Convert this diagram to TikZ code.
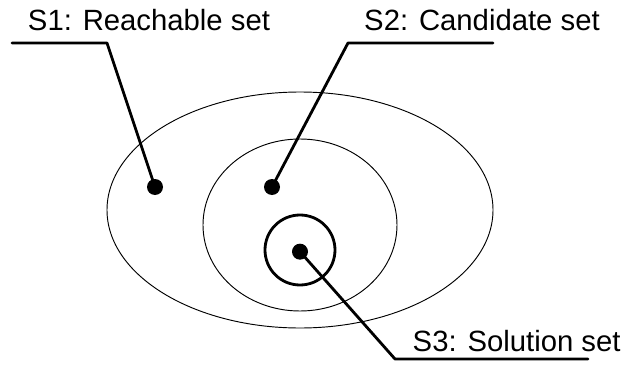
\documentclass[tikz,border=0pt]{standalone}
\usepackage{fontspec}
\setmainfont{Liberation Sans}
\usetikzlibrary{positioning,calc}

\begin{document}
\begin{tikzpicture}[
    setline/.style={
        draw,
        line width=0.8pt
    },
    dot/.style={
        circle,
        fill=black,
        inner sep=0pt,
        minimum size=0.48cm
    },
    leader/.style={line width=2.4pt, line cap=round, line join=round},
    label/.style={
        font=\fontsize{25}{30}\selectfont,
        inner sep=0pt
    }
]
\useasboundingbox (0,0) rectangle (18.81,-11.46);

% === Ensembles ===
\draw[setline] (9.0,-6.3) ellipse [x radius=5.79cm, y radius=3.54cm];
\draw[setline] (9.0,-6.75) ellipse [x radius=2.91cm, y radius=2.58cm];
\draw[line width=2.4pt] (9.0,-7.5) circle [radius=1.05cm];

% === Points ===
\node[dot] (reach) at (4.65,-5.61) {};
\node[dot] (cand) at (8.16,-5.61) {};
\node[dot] (sol) at (9.0,-7.55) {};

% === Textes ===
\node[label] (reachtxt) at (4.47,-0.6) {S1: Reachable set};
\node[label] (candtxt) at (14.46,-0.6) {S2: Candidate set};
\node[label] (soltxt) at (15.5,-10.22) {S3: Solution set};

% === Renvois ===
\coordinate (reachend) at (0.36,-1.29);
\coordinate (candend) at (14.79,-1.29);
\coordinate (solend) at (17.64,-10.77);

\draw[leader] (reachend) -- (3.21,-1.29) -- (reach.center);
\draw[leader] (candend) -- (10.44,-1.29) -- (cand.center);
\draw[leader] (solend) -- (11.85,-10.77) -- (sol.center);

\end{tikzpicture}
\end{document}
